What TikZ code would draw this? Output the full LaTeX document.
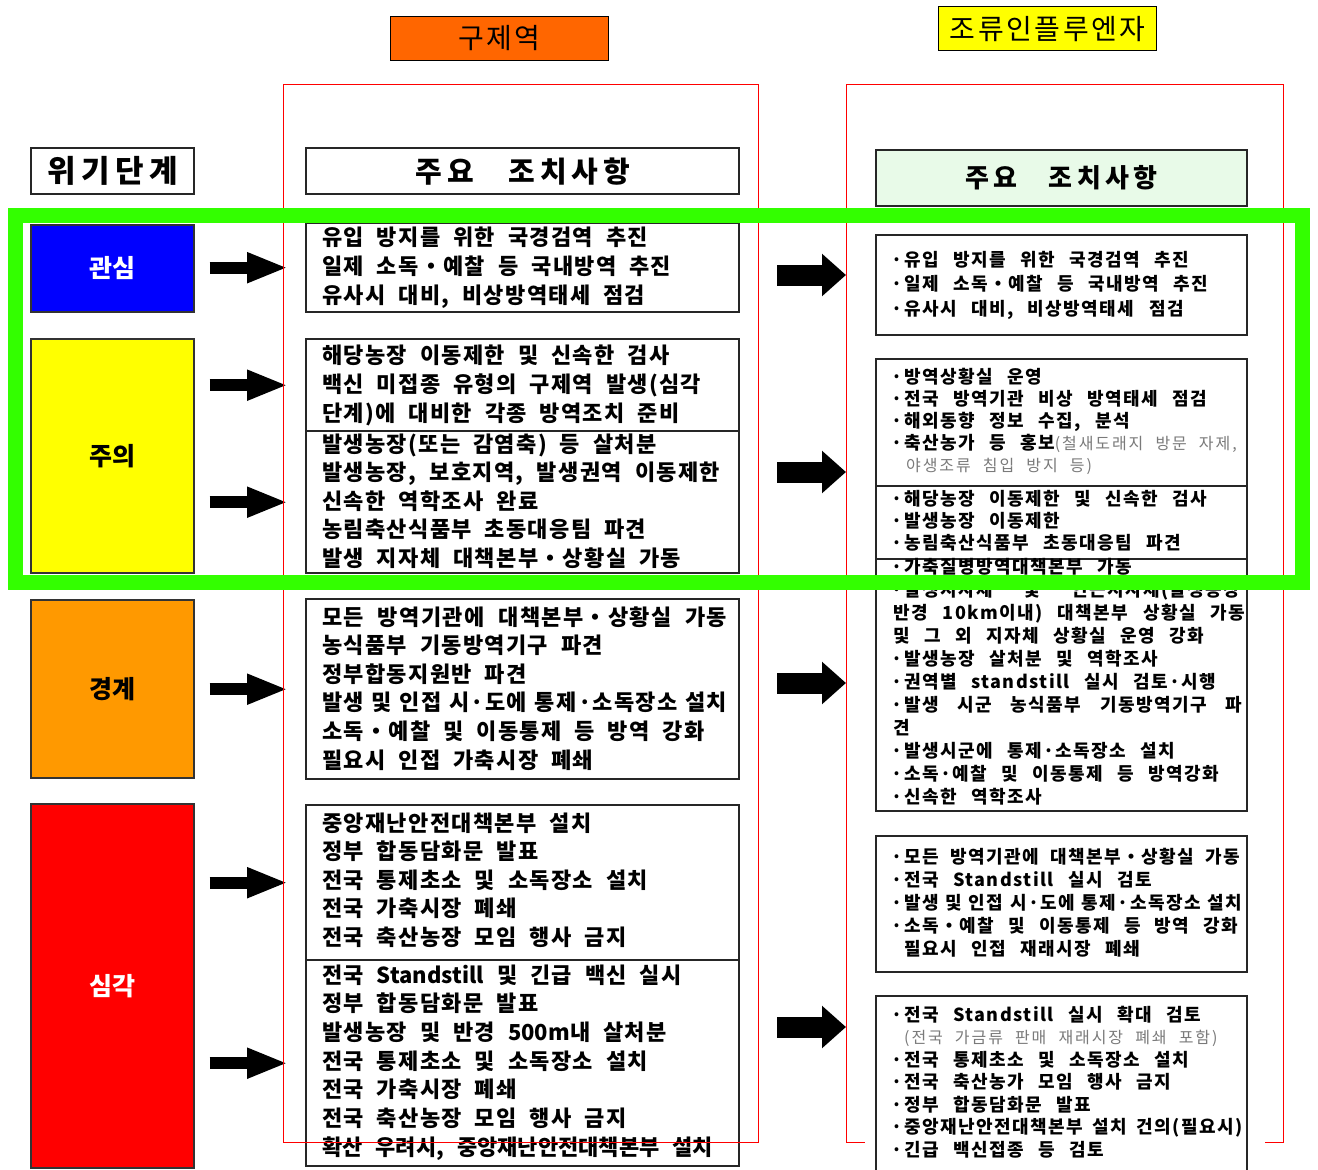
\documentclass[tikz,border=0pt]{standalone}
\usepackage{fontspec}
\setmainfont{Noto Sans CJK KR}
\newfontfamily\krL[LetterSpace=6]{Noto Sans CJK KR}
\newfontfamily\krR[LetterSpace=8,WordSpace=2.6]{Noto Sans CJK KR}
\newfontfamily\krG[LetterSpace=12,WordSpace=2.2]{Noto Sans CJK KR}
\newfontfamily\krH[LetterSpace=17,WordSpace=3]{Noto Sans CJK KR}
\newfontfamily\krW[LetterSpace=9]{Noto Sans CJK KR}
\newfontfamily\krV[LetterSpace=18]{Noto Sans CJK KR}
\usetikzlibrary{arrows.meta,calc}
\definecolor{fmdorange}{HTML}{FF6600}
\definecolor{stblue}{HTML}{0000FF}
\definecolor{styellow}{HTML}{FFFF00}
\definecolor{storange}{HTML}{FF9900}
\definecolor{stred}{HTML}{FF0000}
\definecolor{hlgreen}{HTML}{33FF00}
\definecolor{hdgreen}{HTML}{E8FAE8}
\definecolor{greytxt}{HTML}{7A7A7A}
\newcommand\bl{\makebox[15pt][c]{·}}
\newcommand\nsp{\hspace{6pt plus 12pt}}
\newcommand\lat[1]{{\addfontfeature{LetterSpace=0}#1}}
\newcommand\gr[1]{{\krG\mdseries\fontsize{16}{19}\selectfont\textcolor{greytxt}{#1}}}
\newcommand\tlines[6]{\foreach \lx [count=\li from 0] in {#6}{\node[#1] (#2-\li) at (#3,{#4+\li*#5}) {\lx};}}
\begin{document}
\begin{tikzpicture}[x=1pt,y=-1pt,
  box/.style={draw=black!85,line width=2.4pt,fill=white,inner sep=0pt,anchor=north west},
  stage/.style={draw=black!80,line width=1.6pt,inner sep=0pt,anchor=north west,font={\bfseries\fontsize{25}{30}\selectfont}},
  ltxt/.style={anchor=base west,inner sep=0pt,font={\krL\bfseries\fontsize{22}{26}\selectfont\spaceskip=13pt plus 10pt minus 3pt\relax}},
  rtxt/.style={anchor=base west,inner sep=0pt,font={\krR\bfseries\fontsize{18}{21}\selectfont}},
  gtxt/.style={anchor=base west,inner sep=0pt,text=greytxt,font={\krG\fontsize{16}{19}\selectfont}},
  larr/.style={line width=12pt,-{Triangle[length=41pt,width=28pt]}},
  marr/.style={line width=21pt,-{Triangle[length=24pt,width=41pt]}},
  redframe/.style={draw=red,line width=1pt}
]
\useasboundingbox (0,0) rectangle (1318,1170);
\fill[white] (0,0) rectangle (1318,1170);

% right red frame (behind the boxes)
\draw[redframe] (846,84) rectangle (1283,1142);
\fill[white] (865,985) rectangle (1265,1175);

% titles
\node[box,fill=fmdorange,draw=black,line width=1pt,minimum width=218pt,minimum height=44pt,font={\krW\fontsize{28}{33}\selectfont}] (t1) at (390,16) {구제역};
\node[box,fill=styellow,draw=black,line width=1.2pt,minimum width=218pt,minimum height=44pt,font={\krW\fontsize{28}{33}\selectfont}] (t2) at (938,6) {조류인플루엔자};

% column headers
\node[box,minimum width=163pt,minimum height=46pt,font={\krV\bfseries\fontsize{31}{36}\selectfont}] (h0) at (30,147) {위기단계};
\node[box,minimum width=433pt,minimum height=46pt,font={\krH\bfseries\fontsize{29}{34}\selectfont}] (h1) at (305,147) {주요 조치사항};
\node[box,fill=hdgreen,minimum width=371pt,minimum height=56pt,font={\krH\bfseries\fontsize{26}{31}\selectfont}] (h2) at (875,149) {주요 조치사항};

% stages
\node[stage,fill=stblue,text=white,minimum width=163pt,minimum height=87pt] (s1) at (30,224) {관심};
\node[stage,fill=styellow,minimum width=163pt,minimum height=234pt] (s2) at (30,338) {주의};
\node[stage,fill=storange,minimum width=163pt,minimum height=178pt] (s3) at (30,599) {경계};
\node[stage,fill=stred,text=white,minimum width=163pt,minimum height=364pt] (s4) at (30,803) {심각};

% left column boxes
\node[box,minimum width=433pt,minimum height=89pt] (A) at (305,222) {};
\node[box,minimum width=433pt,minimum height=92pt] (B1) at (305,338) {};
\node[box,minimum width=433pt,minimum height=142pt] (B2) at (305,430) {};
\node[box,minimum width=433pt,minimum height=180pt] (C) at (305,598) {};
\node[box,minimum width=433pt,minimum height=155pt] (D1) at (305,804) {};
\node[box,minimum width=433pt,minimum height=206pt] (D2) at (305,959) {};

\tlines{ltxt}{a}{322}{245}{29}{유입 방지를 위한 국경검역 추진, 일제 소독・예찰 등 국내방역 추진, {유사시 대비, 비상방역태세 점검}}
\tlines{ltxt}{b}{322}{363}{29}{해당농장 이동제한 및 신속한 검사, 백신 미접종 유형의 구제역 발생(심각, 단계)에 대비한 각종 방역조치 준비}
\tlines{ltxt}{bb}{322}{452}{28.5}{발생농장(또는 감염축) 등 살처분, {\makebox[398pt][s]{발생농장, 보호지역, 발생권역 이동제한}}, 신속한 역학조사 완료, 농림축산식품부 초동대응팀 파견, 발생 지자체 대책본부・상황실 가동}
\tlines{ltxt}{c}{322}{625}{28.6}{{\makebox[405pt][s]{모든 방역기관에 대책본부・상황실 가동}}, 농식품부 기동방역기구 파견, 정부합동지원반 파견, {\makebox[405pt][s]{발생\nsp 및\nsp 인접\nsp 시·도에\nsp 통제·소독장소\nsp 설치}}, 소독・예찰 및 이동통제 등 방역 강화, 필요시 인접 가축시장 폐쇄}
\tlines{ltxt}{d}{322}{831}{28.5}{중앙재난안전대책본부 설치, 정부 합동담화문 발표, 전국 통제초소 및 소독장소 설치, 전국 가축시장 폐쇄, 전국 축산농장 모임 행사 금지}
\tlines{ltxt}{dd}{322}{983}{28.7}{전국 \lat{Standstill} 및 긴급 백신 실시, 정부 합동담화문 발표, 발생농장 및 반경 \lat{500m}내 살처분, 전국 통제초소 및 소독장소 설치, 전국 가축시장 폐쇄, 전국 축산농장 모임 행사 금지, {\addfontfeature{LetterSpace=0}확산 우려시, 중앙재난안전대책본부 설치}}

% right column boxes
\node[box,minimum width=371pt,minimum height=100pt] (R1) at (875,234) {};
\node[box,minimum width=371pt,minimum height=127pt] (R2a) at (875,358) {};
\node[box,minimum width=371pt,minimum height=73pt] (R2b) at (875,485) {};
\node[box,minimum width=371pt,minimum height=252pt] (R2c) at (875,558) {};
\node[box,minimum width=371pt,minimum height=136pt] (R3) at (875,835) {};
\node[box,minimum width=371pt,minimum height=185pt] (R4) at (875,995) {};

\tlines{rtxt}{r}{889}{266}{24.5}{\bl 유입 방지를 위한 국경검역 추진, \bl 일제 소독・예찰 등 국내방역 추진, {\bl 유사시 대비, 비상방역태세 점검}}
\tlines{rtxt}{ra}{889}{383}{22}{\bl 방역상황실 운영, \bl 전국 방역기관 비상 방역태세 점검, {\bl 해외동향 정보 수집, 분석}, {\bl 축산농가 등 홍보\gr{(철새도래지 방문 자제,}}}
\node[gtxt] (ra-g) at (906,471) {야생조류 침입 방지 등)};
\tlines{rtxt}{rb}{889}{505}{22.3}{\bl 해당농장 이동제한 및 신속한 검사, \bl 발생농장 이동제한, \bl 농림축산식품부 초동대응팀 파견}
\tlines{rtxt}{rc}{889}{573}{23}{\bl 가축질병방역대책본부 가동, {\makebox[351pt][s]{\bl 발생지자체 및 인근지자체(발생농장}}, {\makebox[356pt][s]{\kern4pt 반경 10km이내) 대책본부 상황실 가동}}, {\kern4pt 및 그 외 지자체 상황실 운영 강화}, \bl 발생농장 살처분 및 역학조사, \bl 권역별 standstill 실시 검토·시행, {\makebox[353pt][s]{\bl 발생 시군 농식품부 기동방역기구 파}}, \kern4pt 견, \bl 발생시군에 통제·소독장소 설치, \bl 소독·예찰 및 이동통제 등 방역강화, \bl 신속한 역학조사}
\tlines{rtxt}{rd}{889}{863}{23}{{\makebox[351pt][s]{\bl 모든 방역기관에 대책본부・상황실 가동}}, \bl 전국 Standstill 실시 검토, {\makebox[353pt][s]{\bl 발생\nsp 및\nsp 인접\nsp 시·도에\nsp 통제·소독장소\nsp 설치}}, {\makebox[349pt][s]{\bl 소독・예찰 및 이동통제 등 방역 강화}}, \kern15pt 필요시 인접 재래시장 폐쇄}
\tlines{rtxt}{re}{889}{1021}{22.5}{\bl 전국 Standstill 실시 확대 검토, \kern15pt\gr{(전국 가금류 판매 재래시장 폐쇄 포함)}, \bl 전국 통제초소 및 소독장소 설치, \bl 전국 축산농가 모임 행사 금지, \bl 정부 합동담화문 발표, {\makebox[351pt][s]{\bl 중앙재난안전대책본부 설치 건의(필요시)}}, \bl 긴급 백신접종 등 검토}

% arrows stage -> left column
\draw[larr] (s1.east |- A.west) ++(15,0) -- ($(A.west)+(-17,0)$);
\draw[larr] (s2.east |- B1.west) ++(15,0) -- ($(B1.west)+(-17,0)$);
\draw[larr] (s2.east |- B2.west) ++(15,0) -- ($(B2.west)+(-17,0)$);
\draw[larr] (s3.east |- C.west) ++(15,0) -- ($(C.west)+(-17,0)$);
\draw[larr] (s4.east |- D1.west) ++(15,0) -- ($(D1.west)+(-17,0)$);
\draw[larr] (s4.east |- D2.west) ++(15,0) -- ($(D2.west)+(-17,0)$);

% arrows left column -> right column
\coordinate (m1a) at (777,275); \coordinate (m1b) at (846,275);
\coordinate (m2a) at (777,472); \coordinate (m2b) at (846,472);
\coordinate (m3a) at (777,683); \coordinate (m3b) at (846,683);
\coordinate (m4a) at (777,1027); \coordinate (m4b) at (846,1027);
\draw[marr] (m1a) -- (m1b);
\draw[marr] (m2a) -- (m2b);
\draw[marr] (m3a) -- (m3b);
\draw[marr] (m4a) -- (m4b);

% left red frame (on top)
\draw[redframe] (283,84) rectangle (758,1142);

% green highlight
\draw[hlgreen,line width=15pt] (15,215) rectangle (1302,582);
\end{tikzpicture}
\end{document}
